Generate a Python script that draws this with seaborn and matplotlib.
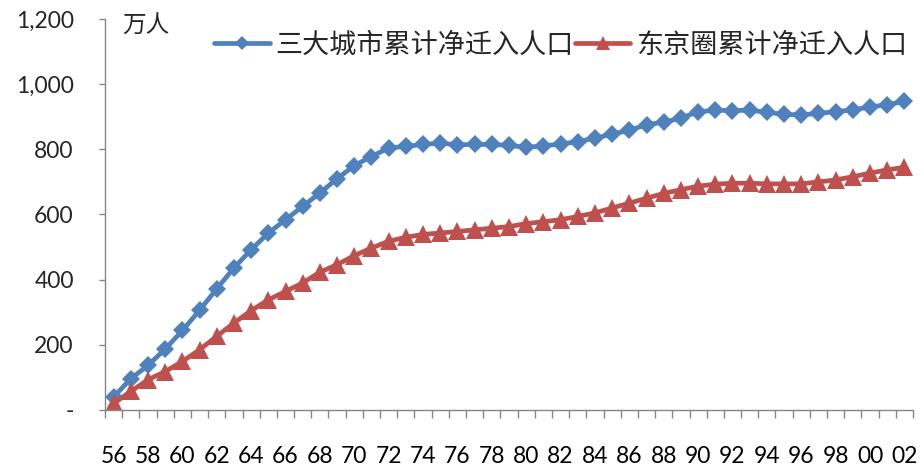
import matplotlib
matplotlib.use("Agg")
import matplotlib.pyplot as plt
import seaborn as sns
import pandas as pd
from matplotlib.ticker import FixedLocator, FuncFormatter

# Cumulative net in-migration, 10k persons
years = list(range(1956, 2003))
three_cities = [40, 96, 137, 187, 244, 306, 372, 436, 492, 543,
                584, 625, 666, 710, 750, 778, 804, 809, 815, 819,
                814, 815, 815, 812, 806, 811, 816, 824, 834, 847,
                858, 876, 883, 896, 915, 920, 919, 920, 914, 907,
                906, 910, 916, 921, 930, 937, 947]
tokyo_area = [20, 57, 93, 118, 149, 185, 226, 267, 305, 338,
              364, 390, 423, 446, 474, 497, 518, 530, 539, 543,
              548, 553, 558, 563, 572, 578, 584, 594, 605, 620,
              635, 650, 665, 676, 687, 693, 696, 696, 694, 694,
              694, 700, 706, 716, 727, 737, 745]
series_names = ["三大城市累计净迁入人口", "东京圈累计净迁入人口"]
series_colors = ["#4F81BD", "#C0504D"]
unit_label = "万人"
y_ticks = [0, 200, 400, 600, 800, 1000, 1200]

sns.set_theme(style="white")
plt.rcParams["font.family"] = ["Lato", "Noto Sans CJK SC", "DejaVu Sans"]

df = pd.DataFrame({
    "year": years * 2,
    "value": three_cities + tokyo_area,
    "series": [series_names[0]] * len(years) + [series_names[1]] * len(years),
})

fig = plt.figure(figsize=(9.24, 4.66), dpi=100)
ax = fig.add_axes([105 / 924, 1 - 410 / 466, (913 - 105) / 924, (410 - 19) / 466])

sns.lineplot(data=df[df.series == series_names[0]], x="year", y="value",
             ax=ax, color=series_colors[0], linewidth=3.4, marker="D",
             markersize=9, markeredgewidth=0, label=series_names[0])
sns.lineplot(data=df[df.series == series_names[1]], x="year", y="value",
             ax=ax, color=series_colors[1], linewidth=3.4, marker="^",
             markersize=13.5, markeredgewidth=0, label=series_names[1])

ax.set_xlim(years[0] - 0.5, years[-1] + 0.5)
ax.set_ylim(0, 1200)
ax.set_xlabel("")
ax.set_ylabel("")

# Category axis: labels every other year, ticks on category boundaries
ax.xaxis.set_major_locator(FixedLocator(years[::2]))
ax.xaxis.set_major_formatter(FuncFormatter(lambda v, p: f"{int(round(v)) % 100:02d}"))
ax.xaxis.set_minor_locator(FixedLocator([y - 0.5 for y in years] + [years[-1] + 0.5]))
ax.tick_params(axis="x", which="major", length=0, pad=26, labelsize=16.5, colors="#000000")
ax.tick_params(axis="x", which="minor", length=5.8, width=1, color="#868686", direction="out")
ax.tick_params(axis="x", which="both", bottom=True)

ax.set_yticks(y_ticks)
ax.yaxis.set_major_formatter(FuncFormatter(lambda v, p: "-" if v == 0 else f"{int(v):,}"))
ax.tick_params(axis="y", which="major", length=4, width=1, color="#868686",
               direction="out", pad=18.5, labelsize=16.5, left=True)

for side in ("top", "right"):
    ax.spines[side].set_visible(False)
for side in ("left", "bottom"):
    ax.spines[side].set_color("#868686")
    ax.spines[side].set_linewidth(1)
ax.grid(False)

fig.text(122 / 924, 1 - 25 / 466, unit_label, ha="left", va="center",
         fontsize=17, family=["Noto Sans CJK SC"])

ax.legend(loc="center right", bbox_to_anchor=(907 / 924, 1 - 45 / 466),
          bbox_transform=fig.transFigure, ncol=2, frameon=False,
          handlelength=2.05, handletextpad=0.2, columnspacing=0.05,
          borderaxespad=0, borderpad=0, markerscale=0.75,
          prop={"family": ["Noto Sans CJK SC"], "size": 19.5})

fig.savefig("out.png", dpi=100, facecolor="white")
